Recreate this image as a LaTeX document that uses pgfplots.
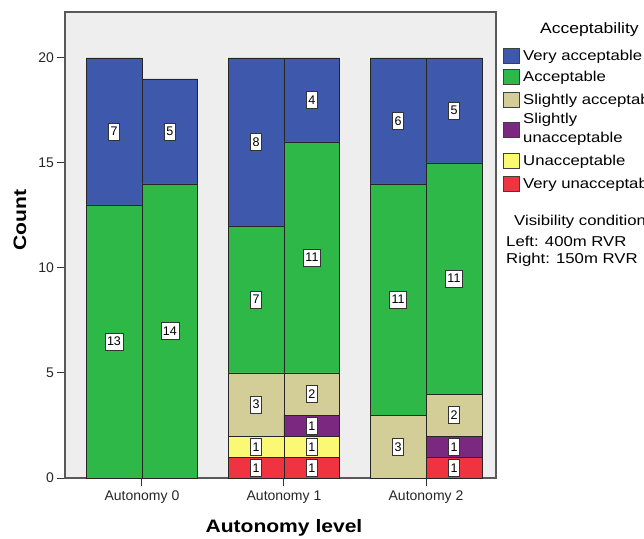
\documentclass[border=0pt]{standalone}
\usepackage{pgfplots}
\pgfplotsset{compat=1.18}
\usepackage{fontspec}
\setmainfont{Liberation Sans}
\newfontfamily\widefont{Liberation Sans}[FakeStretch=1.17]
\definecolor{cVA}{HTML}{3E58AC}
\definecolor{cA}{HTML}{2EB848}
\definecolor{cSA}{HTML}{D3CE97}
\definecolor{cSU}{HTML}{7B2880}
\definecolor{cU}{HTML}{FBF873}
\definecolor{cVU}{HTML}{EF3340}
\definecolor{cbg}{HTML}{EEEEEE}
\pgfplotsset{
  common/.style={scale only axis, width=431bp, height=466bp,
    xmin=-0.542, xmax=2.493, ymin=0, ymax=22.19},
}
\begin{document}
\begin{tikzpicture}
\begin{axis}[
  common,
  name=ax,
  ybar stacked, bar width=0.394, bar shift=0pt,
  axis background/.style={fill=cbg},
  axis line style={draw=black!65, line width=1.2bp},
  xtick={0,1,2}, xticklabels={Autonomy 0,Autonomy 1,Autonomy 2},
  ytick={0,5,10,15,20},
  xtick pos=bottom, ytick pos=left, tick align=outside,
  major tick length=7.5bp,
  tick style={black!80, line width=1bp},
  ticklabel style={font=\fontsize{14bp}{16bp}\selectfont, text=black!85},
  xticklabel style={yshift=-2bp},
  /pgf/number format/assume math mode=true,
  xlabel={Autonomy level}, ylabel={Count},
  label style={font=\widefont\bfseries\fontsize{18bp}{21bp}\selectfont},
  xlabel style={at={(axis description cs:0.508,-0.118)}, anchor=base},
  ylabel style={at={(axis description cs:-0.1044,0.5536)}, anchor=center},
  every axis plot/.append style={draw=black!85, line width=0.9bp},
]
% order: A0 left, A0 right, A1 left, A1 right, A2 left, A2 right
\addplot[fill=cVU] coordinates {(-0.197,0) (0.197,0) (0.803,1) (1.197,1) (1.803,0) (2.197,1)};
\addplot[fill=cU]  coordinates {(-0.197,0) (0.197,0) (0.803,1) (1.197,1) (1.803,0) (2.197,0)};
\addplot[fill=cSU] coordinates {(-0.197,0) (0.197,0) (0.803,0) (1.197,1) (1.803,0) (2.197,1)};
\addplot[fill=cSA] coordinates {(-0.197,0) (0.197,0) (0.803,3) (1.197,2) (1.803,3) (2.197,2)};
\addplot[fill=cA]  coordinates {(-0.197,13) (0.197,14) (0.803,7) (1.197,11) (1.803,11) (2.197,11)};
\addplot[fill=cVA] coordinates {(-0.197,7) (0.197,5) (0.803,8) (1.197,4) (1.803,6) (2.197,5)};
\end{axis}
% value labels at segment centres (overlay axis with identical geometry)
\begin{axis}[common, at={(ax.south west)}, anchor=south west, hide axis]
\addplot[only marks, mark=none, draw=none,
  point meta=explicit symbolic, nodes near coords,
  every node near coord/.style={anchor=center, fill=white, draw=black!80, line width=0.8bp,
    font=\fontsize{12.5bp}{14bp}\selectfont, text=black, inner xsep=2bp, inner ysep=4bp,
    text height=9bp, text depth=0bp}]
  coordinates {
  (-0.197,6.5) [13] (-0.197,16.5) [7]
  (0.197,7) [14] (0.197,16.5) [5]
  (0.803,0.5) [1] (0.803,1.5) [1] (0.803,3.5) [3] (0.803,8.5) [7] (0.803,16) [8]
  (1.197,0.5) [1] (1.197,1.5) [1] (1.197,2.5) [1] (1.197,4) [2] (1.197,10.5) [11] (1.197,18) [4]
  (1.803,1.5) [3] (1.803,8.5) [11] (1.803,17) [6]
  (2.197,0.5) [1] (2.197,1.5) [1] (2.197,3) [2] (2.197,9.5) [11] (2.197,17.5) [5]
  };
\end{axis}
\begin{scope}[shift={(ax.south west)}, xshift=-65bp, yshift=478bp, x=1bp, y=-1bp]
  \foreach \c/\yc in {cVA/56, cA/77, cSA/100, cSU/130, cU/161, cVU/184}
    \filldraw[fill=\c, draw=black!75, line width=0.8bp] (503,\yc-7.5) rectangle (519,\yc+7.5);
  \begin{scope}[every node/.style={anchor=base west, inner sep=0pt, font=\widefont\fontsize{14.3bp}{16bp}\selectfont}]
    \node[font=\widefont\fontsize{15bp}{17bp}\selectfont] at (540,34) {Acceptability};
    \node at (523,61) {Very acceptable};
    \node at (523,82) {Acceptable};
    \node at (523,105) {Slightly acceptable};
    \node at (523,124) {Slightly};
    \node at (523,143) {unacceptable};
    \node at (523,166) {Unacceptable};
    \node at (523,189) {Very unacceptable};
    \node at (514,226) {Visibility conditions};
    \node at (506,247) {Left: 400m RVR};
    \node at (506,264) {Right: 150m RVR};
  \end{scope}
  \pgfresetboundingbox
  \useasboundingbox (0,0) rectangle (644,539);
\end{scope}
\end{tikzpicture}
\end{document}
